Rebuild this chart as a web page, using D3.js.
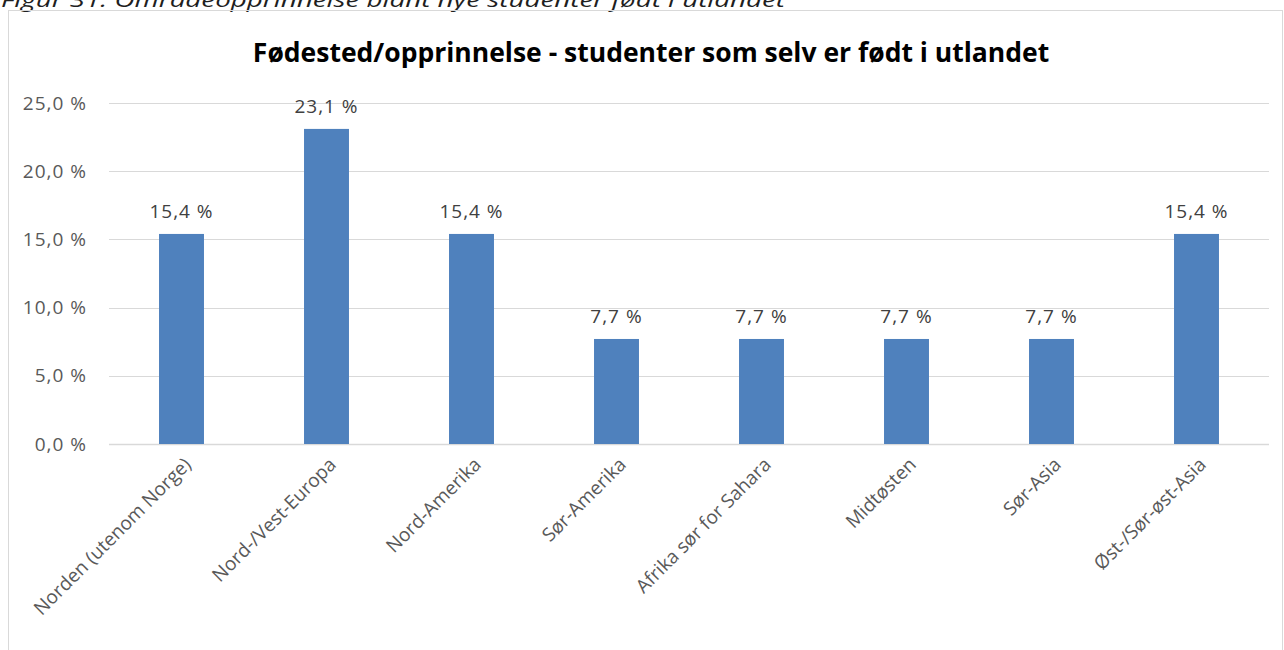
<!DOCTYPE html>
<html>
<head>
<meta charset="utf-8">
<script src="https://cdn.jsdelivr.net/npm/d3@7"></script>
<style>
  body { margin: 0; background: #fff; }
  text { font-family: "Open Sans", sans-serif; }
</style>
</head>
<body>
<div id="chart"></div>
<script>
const categories = ['Norden (utenom Norge)', 'Nord-/Vest-Europa', 'Nord-Amerika', 'Sør-Amerika',
  'Afrika sør for Sahara', 'Midtøsten', 'Sør-Asia', 'Øst-/Sør-øst-Asia'];
const values = [15.4, 23.1, 15.4, 7.7, 7.7, 7.7, 7.7, 15.4];
const yTicks = [0, 5, 10, 15, 20, 25];

const width = 1284;
const height = 650;
const fmt = v => v.toFixed(1).replace('.', ',') + ' %';

const svg = d3.select('#chart')
    .append('svg')
    .attr('width', width)
    .attr('height', height);

// caption above chart (cut off at top, as in the source document)
svg.append('text')
    .attr('x', 1)
    .attr('y', 7)
    .attr('font-family', '"DejaVu Sans", sans-serif')
    .attr('font-size', 20)
    .attr('font-style', 'italic')
    .attr('fill', '#1f1f1f')
    .attr('textLength', 784)
    .attr('lengthAdjust', 'spacingAndGlyphs')
    .text('Figur 31: Områdeopprinnelse blant nye studenter født i utlandet');

// chart frame
svg.append('rect')
    .attr('x', 8.5).attr('y', 10.5)
    .attr('width', 1274).attr('height', 660)
    .attr('fill', 'none')
    .attr('stroke', '#d9d9d9');

svg.append('text')
    .attr('x', 651)
    .attr('y', 62)
    .attr('text-anchor', 'middle')
    .attr('font-size', 26.5)
    .attr('font-weight', 'bold')
    .attr('fill', '#000')
    .text('Fødested/opprinnelse - studenter som selv er født i utlandet');

const x = d3.scaleBand()
    .domain(categories)
    .range([109, 1269])
    .paddingInner(0.69)
    .paddingOuter(0.345);

const y = d3.scaleLinear()
    .domain([0, 25])
    .range([444, 103]);

// gridlines
svg.append('g').selectAll('line').data(yTicks).enter()
    .append('line')
    .attr('x1', 109).attr('x2', 1269)
    .attr('y1', d => Math.round(y(d)) + 0.5)
    .attr('y2', d => Math.round(y(d)) + 0.5)
    .attr('stroke', '#d9d9d9')
    .attr('stroke-width', d => d === 0 ? 1.5 : 1);

// y tick labels
svg.append('g').selectAll('text').data(yTicks).enter()
    .append('text')
    .attr('x', 87)
    .attr('y', d => y(d))
    .attr('dy', '0.35em')
    .attr('text-anchor', 'end')
    .attr('font-size', 19)
    .attr('letter-spacing', 1)
    .attr('fill', '#595959')
    .text(fmt);

// bars
svg.append('g').selectAll('rect').data(values).enter()
    .append('rect')
    .attr('x', (d, i) => x(categories[i]))
    .attr('width', x.bandwidth())
    .attr('y', d => y(d))
    .attr('height', d => y(0) - y(d))
    .attr('fill', '#4f81bd');

// data labels
svg.append('g').selectAll('text').data(values).enter()
    .append('text')
    .attr('x', (d, i) => x(categories[i]) + x.bandwidth() / 2)
    .attr('y', d => y(d) - 16)
    .attr('text-anchor', 'middle')
    .attr('font-size', 19)
    .attr('letter-spacing', 1)
    .attr('fill', '#404040')
    .text(fmt);

// x labels, rotated
svg.append('g').selectAll('text').data(categories).enter()
    .append('text')
    .attr('transform', d => 'translate(' + (x(d) + x.bandwidth() / 2 + 6) + ',' + 461 + ') rotate(-45)')
    .attr('text-anchor', 'end')
    .attr('dy', '0.35em')
    .attr('font-size', 19)
    .attr('fill', '#595959')
    .text(d => d);
</script>
</body>
</html>
